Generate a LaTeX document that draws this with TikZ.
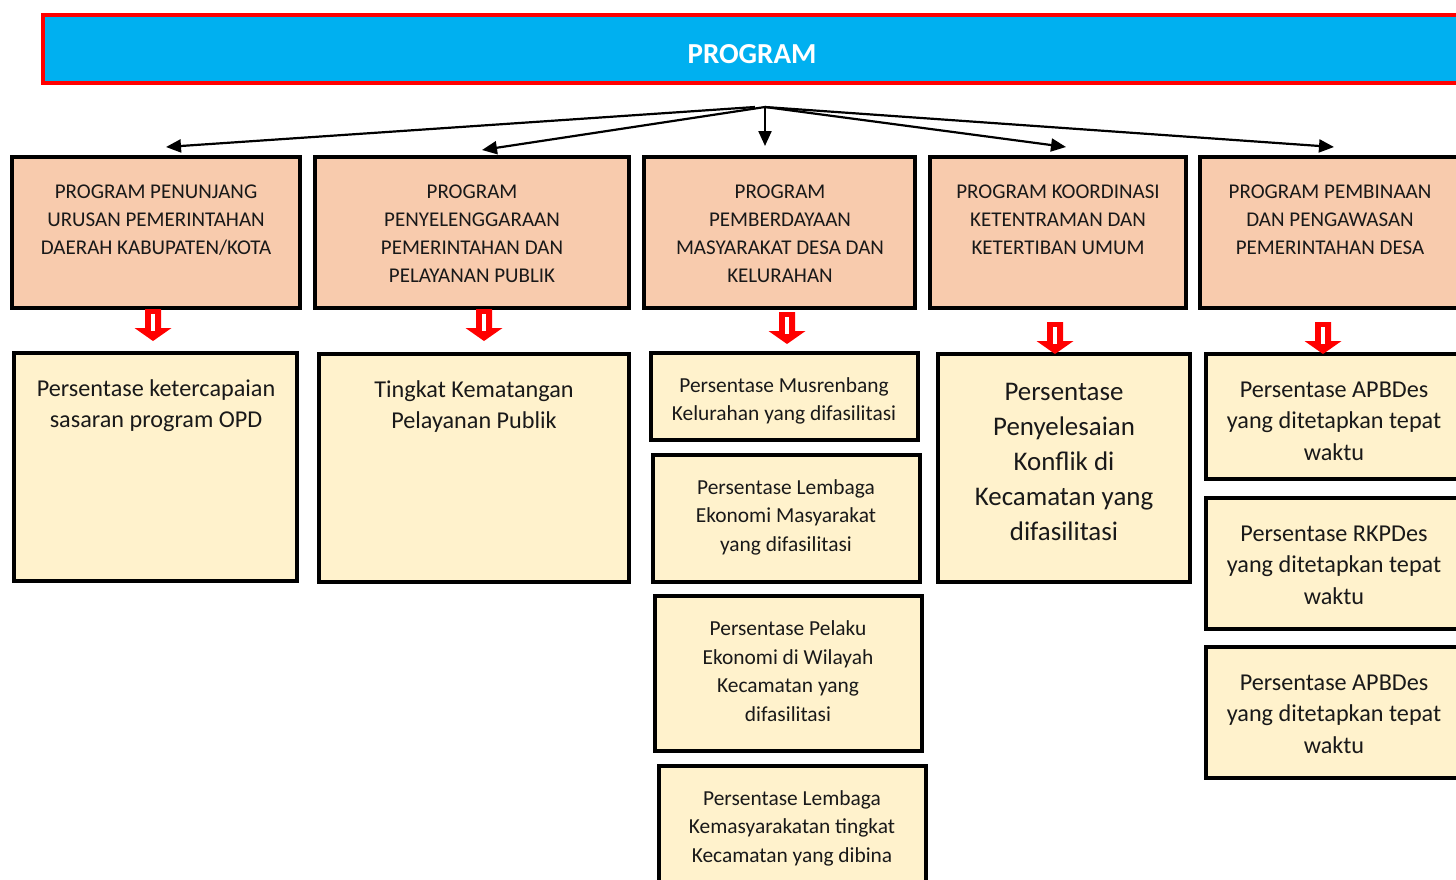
\documentclass[tikz,border=0pt]{standalone}
\usepackage{fontspec}
\setmainfont{Carlito}
\usetikzlibrary{arrows.meta,fit}
\definecolor{hdrblue}{HTML}{00B0F0}
\definecolor{salmon}{HTML}{F8CBAD}
\definecolor{cream}{HTML}{FFF2CC}
\tikzset{
  hdrbox/.style={draw=red, line width=4pt, fill=hdrblue, inner sep=0pt},
  progbox/.style={draw=black, line width=3.5pt, fill=salmon, inner sep=0pt},
  kpibox/.style={draw=black, line width=3.5pt, fill=cream, inner sep=0pt},
  ptext/.style={align=center, inner sep=0pt, text=black!90, font=\fontsize{21}{28}\selectfont},
  ktext/.style={align=center, inner sep=0pt, text=black!90, font=\fontsize{24.2}{31.5}\selectfont},
  stext/.style={align=center, inner sep=0pt, text=black!90, font=\fontsize{21.4}{28.5}\selectfont},
  btext/.style={align=center, inner sep=0pt, text=black!90, font=\fontsize{26.9}{35}\selectfont},
  conn/.style={line width=2.2pt, -{Triangle[length=15pt,width=13pt]}},
  pics/redarrow/.style={code={
    \fill[red] (-8,0) -- (8,0) -- (8,19) -- (18.5,19) -- (0,32) -- (-18.5,19) -- (-8,19) -- cycle;
    \fill[white] (-2,5) -- (2,5) -- (2,22) -- (-2,22) -- cycle;
  }}
}
\begin{document}
\begin{tikzpicture}[x=1pt,y=-1pt]
\useasboundingbox (0,0) rectangle (1456,879);
\clip (0,0) rectangle (1456,879);
% header
\node[hdrbox, fit={(43,15)(1470,83)}] (hdr) {};
\node[text=white, font=\fontsize{29}{32}\selectfont\bfseries, inner sep=0pt] (hdrt) at (752,54) {PROGRAM};
% program boxes
\node[progbox, fit={(12,157)(300,308)}] (p1) {};
\node[progbox, fit={(315,157)(629,308)}] (p2) {};
\node[progbox, fit={(644,157)(915,308)}] (p3) {};
\node[progbox, fit={(930,157)(1186,308)}] (p4) {};
\node[progbox, fit={(1200,157)(1470,308)}] (p5) {};
\node[ptext, anchor=north] (p1t) at (156,185) {PROGRAM PENUNJANG\\URUSAN PEMERINTAHAN\\DAERAH KABUPATEN/KOTA};
\node[ptext, anchor=north] (p2t) at (472,185) {PROGRAM\\PENYELENGGARAAN\\PEMERINTAHAN DAN\\PELAYANAN PUBLIK};
\node[ptext, anchor=north] (p3t) at (780,185) {PROGRAM\\PEMBERDAYAAN\\MASYARAKAT DESA DAN\\KELURAHAN};
\node[ptext, anchor=north] (p4t) at (1058,185) {PROGRAM KOORDINASI\\KETENTRAMAN DAN\\KETERTIBAN UMUM};
\node[ptext, anchor=north] (p5t) at (1330,185) {PROGRAM PEMBINAAN\\DAN PENGAWASAN\\PEMERINTAHAN DESA};
% hub connectors
\coordinate (hubL) at (755,107);
\coordinate (hubC) at (765,107);
\coordinate (t1) at (166,147);
\coordinate (t2) at (482,150);
\coordinate (t3) at (765,146);
\coordinate (t4) at (1066,147);
\coordinate (t5) at (1334,147);
\draw[conn] (hubL) -- (t1);
\draw[conn] (hubC) -- (t2);
\draw[conn] (hubC) -- (t3);
\draw[conn] (hubC) -- (t4);
\draw[conn] (hubC) -- (t5);
% indicator boxes
\node[kpibox, fit={(14,353)(297,581)}] (l1) {};
\node[kpibox, fit={(319,354)(629,582)}] (l2) {};
\node[kpibox, fit={(651,353)(918,440)}] (l3a) {};
\node[kpibox, fit={(653,455)(920,582)}] (l3b) {};
\node[kpibox, fit={(655,596)(922,751)}] (l3c) {};
\node[kpibox, fit={(659,766)(926,900)}] (l3d) {};
\node[kpibox, fit={(938,354)(1190,582)}] (l4) {};
\node[kpibox, fit={(1206,354)(1470,479)}] (l5a) {};
\node[kpibox, fit={(1206,498)(1470,629)}] (l5b) {};
\node[kpibox, fit={(1206,647)(1470,778)}] (l5c) {};
\node[ktext, anchor=north] (l1t) at (156,379) {Persentase ketercapaian\\sasaran program OPD};
\node[ktext, anchor=north] (l2t) at (474,380) {Tingkat Kematangan\\Pelayanan Publik};
\node[stext] (l3at) at (784,401) {Persentase Musrenbang\\Kelurahan yang difasilitasi};
\node[stext] (l3bt) at (786,517) {Persentase Lembaga\\Ekonomi Masyarakat\\yang difasilitasi};
\node[stext] (l3ct) at (788,671) {Persentase Pelaku\\Ekonomi di Wilayah\\Kecamatan yang\\difasilitasi};
\node[stext] (l3dt) at (792,828) {Persentase Lembaga\\Kemasyarakatan tingkat\\Kecamatan yang dibina};
\node[btext] (l4t) at (1064,462) {Persentase\\Penyelesaian\\Konflik di\\Kecamatan yang\\difasilitasi};
\node[ktext] (l5at) at (1334,421) {Persentase APBDes\\yang ditetapkan tepat\\waktu};
\node[ktext] (l5bt) at (1334,565) {Persentase RKPDes\\yang ditetapkan tepat\\waktu};
\node[ktext] (l5ct) at (1334,714) {Persentase APBDes\\yang ditetapkan tepat\\waktu};
% red arrows
\pic at (153,309) {redarrow};
\pic at (484,309) {redarrow};
\pic at (787,312) {redarrow};
\pic at (1055,322) {redarrow};
\pic at (1323,322) {redarrow};
\end{tikzpicture}
\end{document}
